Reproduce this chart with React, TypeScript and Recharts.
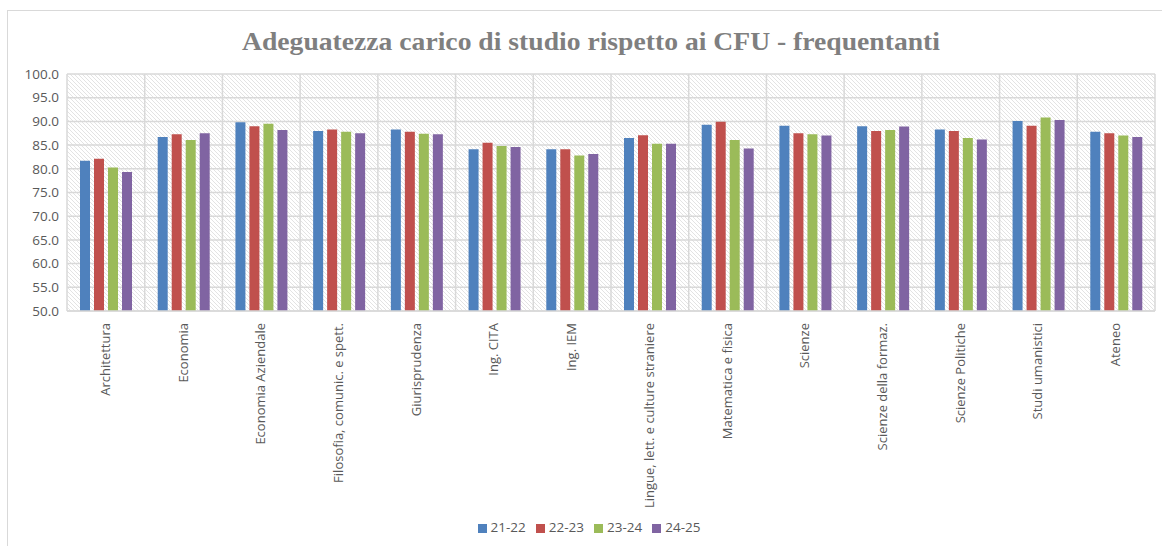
import React from "react";
import { BarChart, Bar, XAxis, YAxis, CartesianGrid, Legend } from "recharts";

const categories = [
  "Architettura",
  "Economia",
  "Economia Aziendale",
  "Filosofia, comunic. e spett.",
  "Giurisprudenza",
  "Ing. CITA",
  "Ing. IEM",
  "Lingue, lett. e culture straniere",
  "Matematica e fisica",
  "Scienze",
  "Scienze della formaz.",
  "Scienze Politiche",
  "Studi umanistici",
  "Ateneo",
];

const s2122 = [81.7, 86.7, 89.8, 88.0, 88.3, 84.1, 84.1, 86.5, 89.3, 89.1, 89.0, 88.3, 90.1, 87.8];
const s2223 = [82.1, 87.3, 89.0, 88.3, 87.8, 85.5, 84.1, 87.1, 89.9, 87.5, 88.0, 88.0, 89.1, 87.5];
const s2324 = [80.3, 86.1, 89.5, 87.8, 87.4, 84.8, 82.8, 85.3, 86.1, 87.3, 88.2, 86.5, 90.8, 87.0];
const s2425 = [79.3, 87.5, 88.2, 87.5, 87.3, 84.6, 83.1, 85.3, 84.3, 87.0, 88.9, 86.2, 90.3, 86.7];

const seriesNames = ["21-22", "22-23", "23-24", "24-25"];
const seriesColors = ["#4f81bd", "#c0504d", "#9bbb59", "#8064a2"];
const yTicks = [50, 55, 60, 65, 70, 75, 80, 85, 90, 95, 100];
const title = "Adeguatezza carico di studio rispetto ai CFU - frequentanti";

const data = categories.map((c, i) => ({
  name: c,
  "21-22": s2122[i],
  "22-23": s2223[i],
  "23-24": s2324[i],
  "24-25": s2425[i],
}));

const XTick = (props: any) => {
  const { x, y, payload } = props;
  return (
    <g transform={`translate(${x + 4},${y + 4})`}>
      <text
        transform="rotate(-90)"
        textAnchor="end"
        fill="#595959"
        fontSize={13}
        fontFamily="'Open Sans', sans-serif"
      >
        {payload.value}
      </text>
    </g>
  );
};

export default function App() {
  const W = 1162;
  const H = 546;
  return (
    <div style={{ position: "absolute", left: 0, top: 0, width: W, height: H, background: "#fff" }}>
      <svg width={0} height={0} style={{ position: "absolute" }}>
        <defs>
          <pattern id="hatch" width={4} height={4} patternUnits="userSpaceOnUse">
            <rect width={4} height={4} fill="#ffffff" />
            <path d="M-1,-1 L5,5 M-1,3 L1,5 M3,-1 L5,1" stroke="#e0e0e0" strokeWidth={0.9} />
          </pattern>
        </defs>
      </svg>
      <div
        style={{
          position: "absolute",
          left: 7,
          top: 10,
          width: W - 7,
          height: H - 10,
          borderLeft: "1px solid #d9d9d9",
          borderTop: "1px solid #d9d9d9",
          boxSizing: "border-box",
        }}
      />
      <svg width={W} height={60} style={{ position: "absolute", left: 0, top: 0 }}>
        <text
          x={591}
          y={50}
          textAnchor="middle"
          fontFamily="'Liberation Serif', serif"
          fontWeight="bold"
          fontSize={26}
          fill="#7f7f7f"
          textLength={698}
          lengthAdjust="spacingAndGlyphs"
        >
          {title}
        </text>
      </svg>
      <div style={{ position: "absolute", left: 0, top: 0 }}>
        <BarChart
          width={W}
          height={H}
          data={data}
          margin={{ top: 74, right: 7, left: 7, bottom: 4 }}
          barCategoryGap="16%"
          barGap={4}
        >
          <CartesianGrid
            stroke="#d9d9d9"
            strokeWidth={1.5}
            fill="url(#hatch)"
            fillOpacity={1}
            verticalCoordinatesGenerator={(p: any) => {
              const left = p.offset.left;
              const w = p.offset.width;
              return Array.from({ length: categories.length + 1 }, (_, i) => left + (w * i) / categories.length);
            }}
          />
          <XAxis
            dataKey="name"
            interval={0}
            height={207}
            tick={<XTick />}
            tickLine={false}
            axisLine={{ stroke: "#d9d9d9", strokeWidth: 1.5 }}
          />
          <YAxis
            width={60}
            domain={[50, 100]}
            ticks={yTicks}
            tickFormatter={(v: number) => v.toFixed(1)}
            tick={{ fill: "#595959", fontSize: 13.5, fontFamily: "'Open Sans', sans-serif" }}
            tickLine={false}
            axisLine={false}
            allowDataOverflow
          />
          <Legend
            height={24}
            iconType="square"
            iconSize={9}
            wrapperStyle={{ left: 20, fontFamily: "'Open Sans', sans-serif", fontSize: 13.5, color: "#595959" }}
            formatter={(v: string) => <span style={{ color: "#595959" }}>{v}</span>}
          />
          {seriesNames.map((s, i) => (
            <Bar
              key={s}
              dataKey={s}
              fill={seriesColors[i]}
              barSize={10}
              isAnimationActive={false}
            />
          ))}
        </BarChart>
      </div>
    </div>
  );
}
